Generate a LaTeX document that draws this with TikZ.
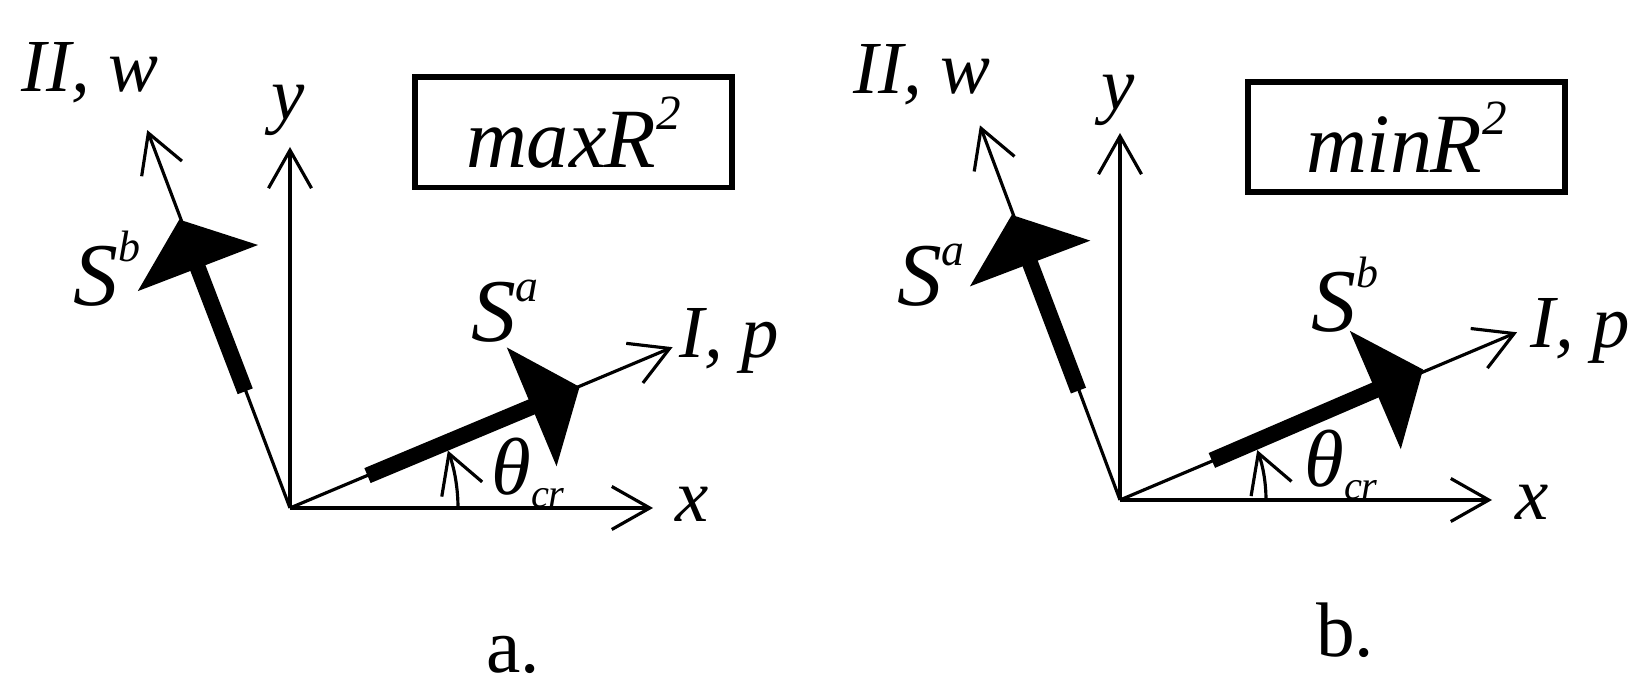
\documentclass[tikz,border=0pt]{standalone}
\usepackage{fontspec}
\setmainfont{Liberation Serif}
\usetikzlibrary{arrows.meta}
\usetikzlibrary{calc}
\newcommand{\upby}[3]{\raisebox{#1}{\fontsize{#2}{#2}\selectfont #3}}
\tikzset{
    axisline/.style = {line width=0.9pt,-{Straight Barb[length=3.8mm,width=4.3mm]}},
    bigvec/.style = {line width=4.6pt,-{Triangle[length=5.2mm,width=12.6mm]}},
    axlabel/.style = {inner sep=0pt,anchor=base,font=\fontsize{21.3}{24}\selectfont\itshape},
    veclabel/.style = {inner sep=0pt,anchor=base,font=\fontsize{25.5}{28}\selectfont\itshape},
    anglabel/.style = {inner sep=0pt,anchor=base,font=\fontsize{23}{26}\selectfont\itshape},
    critbox/.style = {draw,line width=1.7pt,inner sep=0pt,minimum width=3.17cm,minimum height=1.1cm,font=\fontsize{24}{27}\selectfont\itshape},
    caption/.style = {inner sep=0pt,anchor=base,font=\fontsize{22}{25}\selectfont}
}

\begin{document}
\begin{tikzpicture}
\useasboundingbox (0,0) rectangle (16.51,6.99);
%
% a.
\coordinate (oa) at (2.90,1.91);
\coordinate (xa) at ($(oa)+(0:3.63)$);
\coordinate (ya) at ($(oa)+(90:3.61)$);
\coordinate (pa) at ($(oa)+(22.8:4.15)$);
\coordinate (wa) at ($(oa)+(110.7:4.04)$);
\coordinate (sa1) at ($(oa)+(22.7:0.84)$);
\coordinate (sa2) at ($(oa)+(22.7:3.14)$);
\coordinate (sb1) at ($(oa)+(111:1.25)$);
\coordinate (sb2) at ($(oa)+(111:3.09)$);
\coordinate (ta) at ($(oa)+(0:1.68)$);
%
\draw[axisline] (oa) -- (xa);
\draw[axisline] (oa) -- (ya);
\draw[axisline] (oa) -- (pa);
\draw[axisline] (oa) -- (wa);
\draw[bigvec] (sa1) -- (sa2);
\draw[bigvec] (sb1) -- (sb2);
\draw[axisline] (ta) arc[start angle=0,end angle=20,radius=1.68];
%
\node[axlabel] at (0.90,6.07) (lwa) {II, w};
\node[axlabel] at (2.88,5.79) (lya) {y};
\node[axlabel] at (7.29,3.41) (lpa) {I, p};
\node[axlabel] at (6.92,1.77) (lxa) {x};
\node[veclabel] at (1.07,3.93) (lsb) {S\upby{12.6pt}{12.5}{b}};
\node[veclabel] at (5.05,3.57) (lsa) {S\upby{11.4pt}{13}{a}};
\node[anglabel] at (5.28,2.04) (lta) {θ\upby{-3.7pt}{11.5}{cr}};
\node[critbox] at (5.735,5.665) (boxa) {max\kern-0.5pt R\upby{10.8pt}{14}{2}};
\node[caption] at (5.13,0.26) (capa) {a.};
%
% b.
\coordinate (ob) at (11.20,1.99);
\coordinate (xb) at ($(ob)+(0:3.72)$);
\coordinate (yb) at ($(ob)+(90:3.67)$);
\coordinate (pb) at ($(ob)+(22.9:4.31)$);
\coordinate (wb) at ($(ob)+(110.5:4.00)$);
\coordinate (sc1) at ($(ob)+(110.8:1.17)$);
\coordinate (sc2) at ($(ob)+(110.8:3.05)$);
\coordinate (sd1) at ($(ob)+(23.3:1.00)$);
\coordinate (sd2) at ($(ob)+(23.3:3.30)$);
\coordinate (tb) at ($(ob)+(0:1.46)$);
%
\draw[axisline] (ob) -- (xb);
\draw[axisline] (ob) -- (yb);
\draw[axisline] (ob) -- (pb);
\draw[axisline] (ob) -- (wb);
\draw[bigvec] (sc1) -- (sc2);
\draw[bigvec] (sd1) -- (sd2);
\draw[axisline] (tb) arc[start angle=0,end angle=20,radius=1.46];
%
\node[axlabel] at (9.22,6.05) (lwb) {II, w};
\node[axlabel] at (11.18,5.89) (lyb) {y};
\node[axlabel] at (15.80,3.51) (lpb) {I, p};
\node[axlabel] at (15.32,1.79) (lxb) {x};
\node[veclabel] at (9.31,3.93) (lsc) {S\upby{11.4pt}{13}{a}};
\node[veclabel] at (13.45,3.67) (lsd) {S\upby{12.6pt}{12.5}{b}};
\node[anglabel] at (13.41,2.12) (ltb) {θ\upby{-3.7pt}{11.5}{cr}};
\node[critbox] at (14.065,5.615) (boxb) {min\kern-0.5pt R\upby{10.8pt}{14}{2}};
\node[caption] at (13.45,0.42) (capb) {b.};
\end{tikzpicture}
\end{document}
